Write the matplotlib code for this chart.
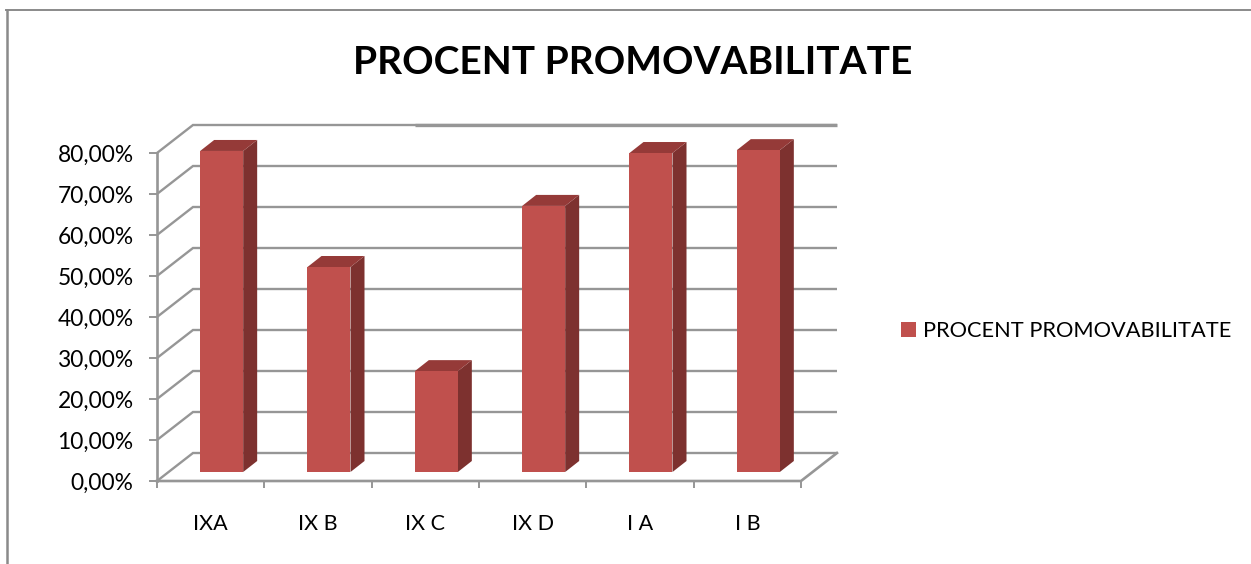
import matplotlib
matplotlib.use("Agg")
import matplotlib.pyplot as plt
from matplotlib.patches import Polygon, Rectangle

categories = ["IXA", "IX B", "IX C", "IX D", "I A", "I B"]
procent = [78.3, 50.0, 24.6, 64.9, 77.8, 78.5]
y_ticks = [0, 10, 20, 30, 40, 50, 60, 70, 80]
y_labels = ["0,00%", "10,00%", "20,00%", "30,00%", "40,00%", "50,00%", "60,00%", "70,00%", "80,00%"]
titlu = "PROCENT PROMOVABILITATE"

W, H = 1251, 564
GRI = "#969696"
FATA = "#c0504d"
LATERAL = "#7d312f"
SUS = "#953a38"

# marimea in pixeli a unei unitati pe axe
px_x = (801 - 157) / 6
px_y = (481 - 153) / 80
# adancimea 3d
dx = 36 / px_x
dy = 28 / px_y
# coloana sta putin in interior fata de peretele din fata
bar_dx = 11 / px_x
bar_dy = 9 / px_y
lat_dx = 14 / px_x
lat_dy = 11 / px_y
latime = 43 / px_x

plt.rcParams["font.family"] = ["Lato", "DejaVu Sans"]
fig = plt.figure(figsize=(W / 100, H / 100), dpi=100)
ax = fig.add_axes([157 / W, 1 - 481 / H, (801 - 157) / W, (481 - 153) / H])
ax.set_xlim(0, 6)
ax.set_ylim(0, 80)
for s in ax.spines.values():
    s.set_visible(False)

n = len(categories)
for v in y_ticks:
    ax.plot([0, dx, n + dx], [v, v + dy, v + dy], color=GRI, lw=1.7,
            clip_on=False, zorder=1, solid_capstyle="butt", solid_joinstyle="miter")
# linia de sus e mai groasa spre dreapta
ax.plot([2.4, n + dx], [80 + dy, 80 + dy], color=GRI, lw=2.4, clip_on=False, zorder=1,
        solid_capstyle="butt")
ax.plot([0, 0], [0, 80], color=GRI, lw=1.9, clip_on=False, zorder=2)
ax.plot([0, n, n + dx], [0, 0, dy], color=GRI, lw=1.9, clip_on=False, zorder=2)

for i, v in enumerate(procent):
    x0 = i + 0.5 + bar_dx - latime / 2
    x1 = x0 + latime
    y0 = bar_dy
    y1 = bar_dy + v
    ax.add_patch(Polygon([(x1, y0), (x1 + lat_dx, y0 + lat_dy), (x1 + lat_dx, y1 + lat_dy), (x1, y1)],
                         fc=LATERAL, ec="none", clip_on=False, zorder=3))
    ax.add_patch(Polygon([(x0, y1), (x1, y1), (x1 + lat_dx, y1 + lat_dy), (x0 + lat_dx, y1 + lat_dy)],
                         fc=SUS, ec="none", clip_on=False, zorder=3))
    ax.add_patch(Rectangle((x0, y0), latime, v, fc=FATA, ec="none", clip_on=False, zorder=4))

ax.set_yticks(y_ticks)
ax.set_yticklabels(y_labels, fontsize=16.4, color="black")
ax.tick_params(axis="y", length=5.8, width=1.4, color=GRI, pad=11)
ax.set_xticks(range(n + 1))
ax.set_xticklabels([""] * (n + 1))
ax.set_xticks([i + 0.5 for i in range(n)], minor=True)
ax.set_xticklabels(categories, minor=True, fontsize=15.5, color="black")
ax.tick_params(axis="x", which="major", length=5, width=1.4, color=GRI)
ax.tick_params(axis="x", which="minor", length=0, pad=24)

fig.text(633 / W, 1 - 62 / H, titlu, fontsize=28, fontweight="bold", ha="center", va="center")

handle = Rectangle((0, 0), 1, 1, fc=FATA, ec="none")
fig.legend([handle], [titlu], loc="center left", bbox_to_anchor=(901 / W, 1 - 331 / H),
           frameon=False, fontsize=15.7, handlelength=0.69, handleheight=0.69, handletextpad=0.32,
           borderaxespad=0, borderpad=0)

# chenarul de sus si din stanga
fig.add_artist(plt.Line2D([7 / W, 7 / W], [0, 1 - 9.5 / H], color="#8a8a8a", lw=1.8))
fig.add_artist(plt.Line2D([6 / W, 1], [1 - 9.5 / H, 1 - 9.5 / H], color="#8a8a8a", lw=1.4))

fig.savefig("out.png", dpi=100)
